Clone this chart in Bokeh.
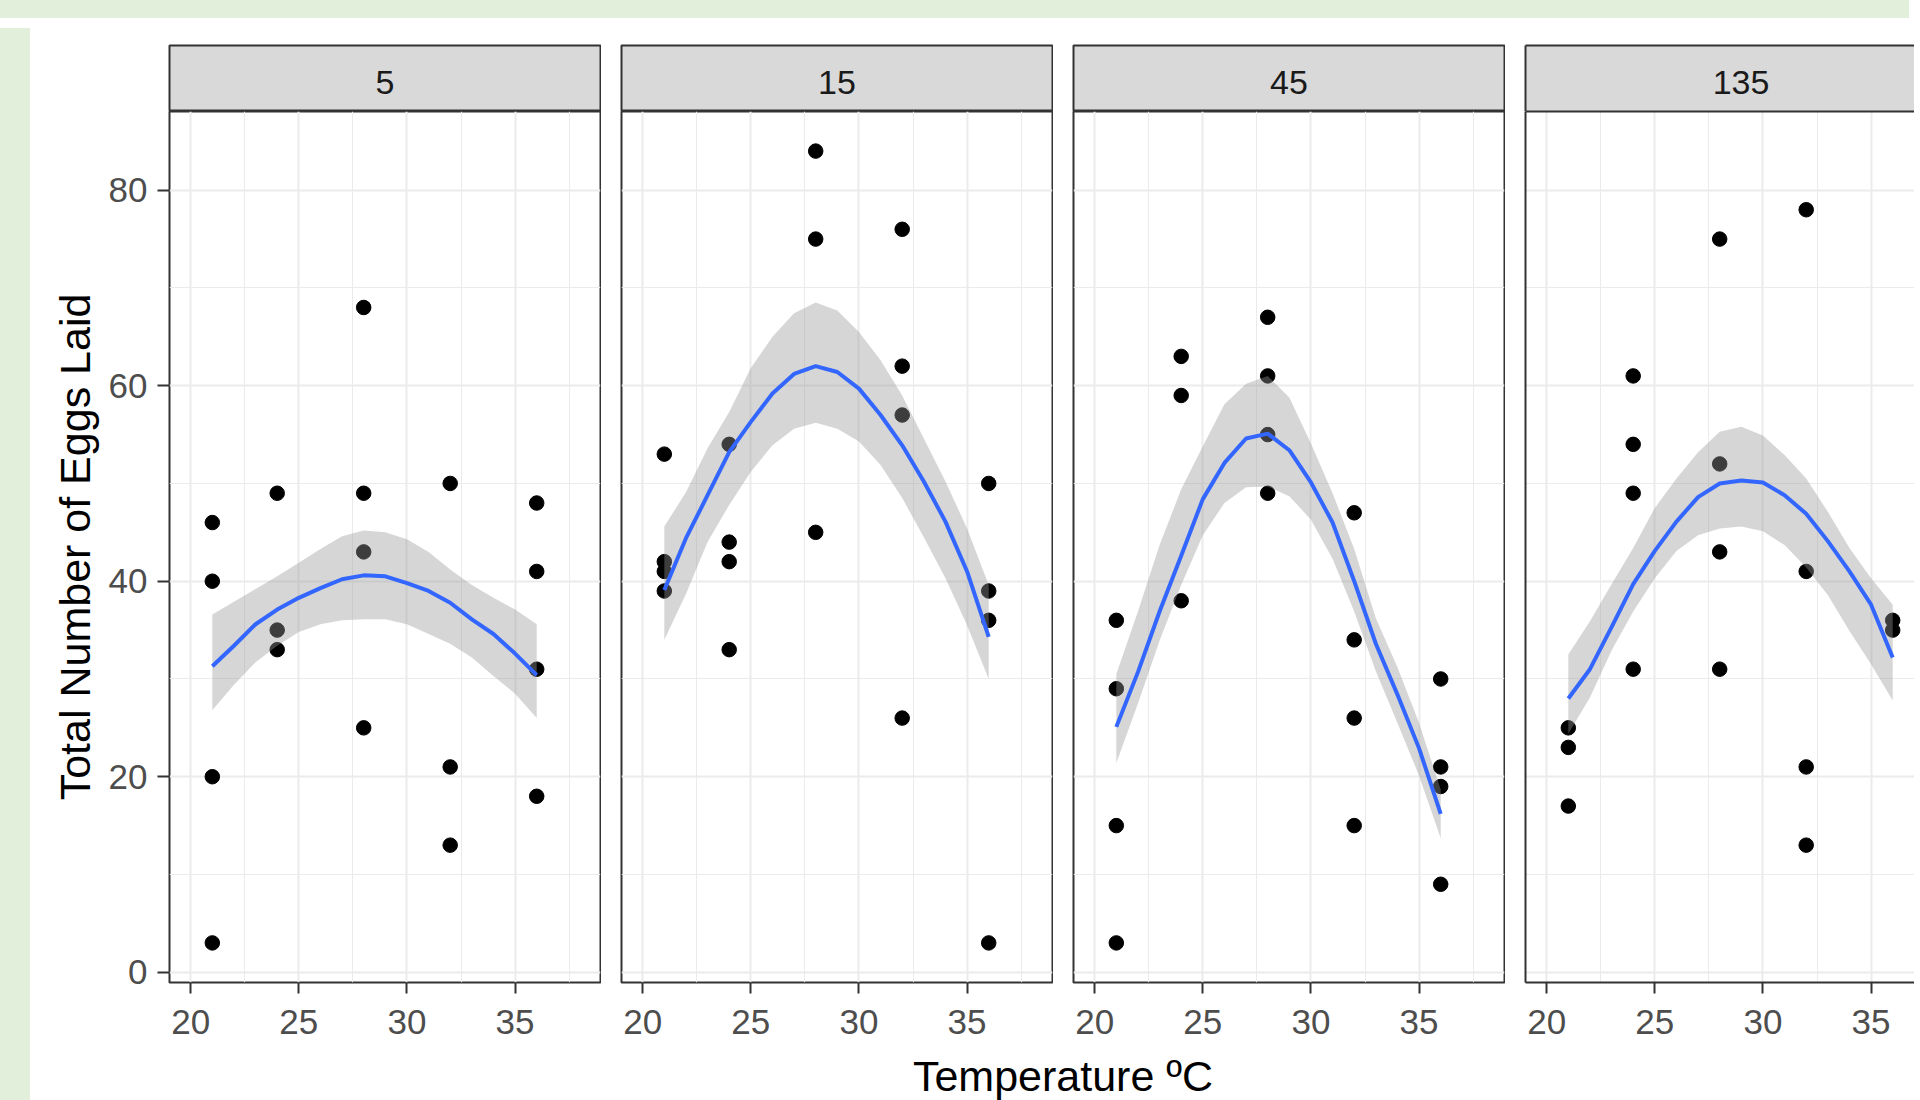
from bokeh.plotting import figure
from bokeh.models import Range1d, FixedTicker, LinearAxis, Label, Div
from bokeh.layouts import row, column
from bokeh.embed import file_html
from bokeh.resources import INLINE
from bokeh.core.properties import value

FONT = "Liberation Sans"
GREEN = "#E2EFDA"
BORDER = "#333333"
GRID = "#EBEBEB"

# ---------------- data ----------------
strip_labels = ["5", "15", "45", "135"]
x_ticks = [20, 25, 30, 35]
x_minor = [22.5, 27.5, 32.5, 37.5]
y_ticks = [0, 20, 40, 60, 80]
y_minor = [10, 30, 50, 70]

p5_temp = [21, 21, 21, 21, 24, 24, 24, 28, 28, 28, 28, 32, 32, 32, 36, 36, 36, 36]
p5_eggs = [46, 40, 20, 3, 49, 35, 33, 68, 49, 43, 25, 50, 21, 13, 48, 41, 31, 18]
p15_temp = [21, 21, 21, 21, 24, 24, 24, 24, 28, 28, 28, 32, 32, 32, 32, 36, 36, 36, 36]
p15_eggs = [53, 42, 41, 39, 54, 44, 42, 33, 84, 75, 45, 76, 62, 57, 26, 50, 39, 36, 3]
p45_temp = [21, 21, 21, 21, 24, 24, 24, 28, 28, 28, 28, 32, 32, 32, 32, 36, 36, 36, 36]
p45_eggs = [36, 29, 15, 3, 63, 59, 38, 67, 61, 55, 49, 47, 34, 26, 15, 30, 21, 19, 9]
p135_temp = [21, 21, 21, 24, 24, 24, 24, 28, 28, 28, 28, 32, 32, 32, 32, 36, 36]
p135_eggs = [25, 23, 17, 61, 54, 49, 31, 75, 52, 43, 31, 78, 41, 21, 13, 36, 35]

smooth_temp = [21, 22, 23, 24, 25, 26, 27, 28, 29, 30, 31, 32, 33, 34, 35, 36]
fit5 = [31.3, 33.4, 35.6, 37.1, 38.3, 39.3, 40.2, 40.6, 40.5, 39.8, 39.0, 37.8, 36.1, 34.6, 32.6, 30.4]
upr5 = [36.6, 37.9, 39.2, 40.5, 41.9, 43.3, 44.6, 45.2, 45.0, 44.3, 43.0, 41.2, 39.6, 38.3, 37.1, 35.6]
lwr5 = [26.8, 29.4, 31.7, 33.4, 34.8, 35.6, 36.0, 36.1, 36.1, 35.6, 34.6, 33.6, 32.2, 30.3, 28.5, 26.0]
fit15 = [39.1, 44.4, 48.8, 53.2, 56.3, 59.2, 61.2, 62.0, 61.4, 59.7, 57.0, 53.9, 50.2, 46.1, 41.0, 34.3]
upr15 = [45.6, 49.1, 53.6, 57.3, 61.8, 65.0, 67.4, 68.5, 67.7, 65.5, 62.6, 59.0, 54.6, 50.2, 45.4, 39.6]
lwr15 = [34.0, 38.7, 44.0, 47.8, 51.2, 53.9, 55.6, 56.2, 55.6, 54.3, 51.9, 48.5, 44.5, 40.3, 35.5, 30.0]
fit45 = [25.1, 30.7, 36.9, 42.6, 48.4, 52.1, 54.6, 55.1, 53.4, 50.1, 46.0, 40.0, 33.6, 28.4, 22.9, 16.2]
upr45 = [30.5, 36.9, 43.7, 49.4, 53.8, 58.1, 60.2, 61.0, 58.8, 54.1, 49.0, 43.3, 36.2, 31.2, 25.5, 18.7]
lwr45 = [21.4, 27.5, 33.9, 39.6, 44.7, 48.0, 49.6, 49.7, 48.7, 46.3, 42.3, 36.9, 30.8, 25.5, 20.1, 13.7]
fit135 = [28.0, 31.0, 35.3, 39.7, 43.1, 46.1, 48.6, 50.0, 50.3, 50.1, 48.8, 46.9, 44.1, 41.0, 37.6, 32.2]
upr135 = [32.5, 35.9, 39.7, 43.4, 47.5, 50.5, 53.2, 55.3, 55.8, 54.9, 52.9, 50.5, 47.1, 43.4, 40.3, 37.6]
lwr135 = [24.4, 28.1, 32.9, 36.9, 40.3, 43.1, 44.7, 45.4, 45.6, 45.1, 43.7, 41.4, 38.6, 34.9, 31.5, 27.8]

points = [(p5_temp, p5_eggs), (p15_temp, p15_eggs), (p45_temp, p45_eggs), (p135_temp, p135_eggs)]
smooths = [(fit5, lwr5, upr5), (fit15, lwr15, upr15), (fit45, lwr45, upr45), (fit135, lwr135, upr135)]

# ---------------- layout constants ----------------
X_START, X_END = 19.02, 38.95
Y_START, Y_END = -1.05, 88.05
FULL_W = 431
FRAME_W = [431, 431, 431, 389]
LEFTS = [134, 20, 20, 20]
RIGHTS = [1, 1, 1, 0]
GREEN_TOP = 21
GREEN_LEFT = 33
STRIP_TOP = 22
STRIP_H = 66
PANEL_FRAME_H = 871
PANEL_BOTTOM = 67
TITLE_H = 51
TICK_FONT = "35px"
TITLE_FONT = "43px"
ROW_W = sum(l + f + r for l, f, r in zip(LEFTS, FRAME_W, RIGHTS))


def border_axis():
    return LinearAxis(ticker=FixedTicker(ticks=[]), axis_line_color=BORDER, axis_line_width=2,
                      major_tick_line_color=None, minor_tick_line_color=None,
                      major_label_standoff=0, major_tick_out=0, major_tick_in=0)


cols = []
for i in range(4):
    last = i == 3
    x_end = X_START + FRAME_W[i] * (X_END - X_START) / FULL_W
    w = LEFTS[i] + FRAME_W[i] + RIGHTS[i]

    # ---- strip ----
    s = figure(width=w, height=STRIP_TOP + STRIP_H, x_range=Range1d(X_START, x_end),
               y_range=Range1d(0, STRIP_H), output_backend="svg", toolbar_location=None,
               min_border_left=LEFTS[i], min_border_right=RIGHTS[i],
               min_border_top=STRIP_TOP, min_border_bottom=0,
               x_axis_location=None, y_axis_location=None)
    s.grid.visible = False
    s.background_fill_color = "#D9D9D9"
    s.border_fill_color = "white"
    if last:
        s.outline_line_color = None
        s.add_layout(border_axis(), "left")
        s.add_layout(border_axis(), "above")
        s.add_layout(border_axis(), "below")
    else:
        s.outline_line_color = BORDER
        s.outline_line_width = 2
    s.text(x=[(X_START + X_END) / 2], y=[29], text=[strip_labels[i]],
           text_font=value(FONT), text_font_size="34px", text_color="#1A1A1A",
           text_align="center", text_baseline="middle")

    # ---- panel ----
    p = figure(width=w, height=PANEL_FRAME_H + PANEL_BOTTOM, x_range=Range1d(X_START, x_end),
               y_range=Range1d(Y_START, Y_END), output_backend="svg", toolbar_location=None,
               min_border_left=LEFTS[i], min_border_right=RIGHTS[i],
               min_border_top=0, min_border_bottom=PANEL_BOTTOM)
    p.background_fill_color = "white"
    p.border_fill_color = "white"
    p.xgrid.ticker = FixedTicker(ticks=x_ticks, minor_ticks=x_minor)
    p.ygrid.ticker = FixedTicker(ticks=y_ticks, minor_ticks=y_minor)
    for g in (p.xgrid, p.ygrid):
        g.grid_line_color = GRID
        g.grid_line_width = 2
        g.minor_grid_line_color = GRID
        g.minor_grid_line_width = 1

    xa = p.xaxis[0]
    xa.ticker = FixedTicker(ticks=x_ticks)
    xa.major_tick_out = 11
    xa.major_tick_in = 0
    xa.major_tick_line_color = BORDER
    xa.major_tick_line_width = 2
    xa.minor_tick_line_color = None
    xa.major_label_standoff = 16
    xa.major_label_text_font = FONT
    xa.major_label_text_font_size = TICK_FONT
    xa.major_label_text_color = "#4D4D4D"

    ya = p.yaxis[0]
    if i == 0:
        ya.ticker = FixedTicker(ticks=y_ticks)
        ya.major_tick_out = 12
        ya.major_tick_in = 0
        ya.major_tick_line_color = BORDER
        ya.major_tick_line_width = 2
        ya.minor_tick_line_color = None
        ya.major_label_standoff = 10
        ya.major_label_text_font = FONT
        ya.major_label_text_font_size = TICK_FONT
        ya.major_label_text_color = "#4D4D4D"
        ya.axis_line_color = None
        ya.axis_label = "Total Number of Eggs Laid"
        ya.axis_label_text_font = FONT
        ya.axis_label_text_font_size = TITLE_FONT
        ya.axis_label_text_font_style = "normal"
        ya.axis_label_text_color = "black"
        ya.axis_label_standoff = 7
    else:
        ya.ticker = FixedTicker(ticks=[])
        ya.major_tick_line_color = None
        ya.minor_tick_line_color = None
        ya.major_label_standoff = 0
        ya.major_tick_out = 0
        ya.major_tick_in = 0
        ya.axis_line_color = BORDER if last else None
        ya.axis_line_width = 2

    if last:
        p.outline_line_color = None
        xa.axis_line_color = BORDER
        xa.axis_line_width = 2
        p.add_layout(border_axis(), "above")
    else:
        xa.axis_line_color = None
        p.outline_line_color = BORDER
        p.outline_line_width = 2

    px, py = points[i]
    fit, lwr, upr = smooths[i]
    p.scatter(px, py, size=14.5, color="black")
    p.varea(x=smooth_temp, y1=lwr, y2=upr, fill_color="#999999", fill_alpha=0.4)
    p.line(smooth_temp, fit, line_color="#3366FF", line_width=4)

    cols.append(column(s, p))

# ---- x-axis title, centred across all four panels ----
panels_left = LEFTS[0]
panels_right = ROW_W + (FULL_W - FRAME_W[3])
t = figure(width=ROW_W, height=TITLE_H, x_range=Range1d(0, ROW_W), y_range=Range1d(0, TITLE_H),
           output_backend="svg", toolbar_location=None, min_border=0,
           x_axis_location=None, y_axis_location=None)
t.grid.visible = False
t.outline_line_color = None
t.add_layout(Label(x=(panels_left + panels_right) / 2.0, y=25,
                   text="Temperature ºC", text_font=FONT, text_font_size=TITLE_FONT,
                   text_color="black", text_align="center", text_baseline="middle"))

body_h = STRIP_TOP + STRIP_H + PANEL_FRAME_H + PANEL_BOTTOM + TITLE_H
top_band = Div(text="", width=ROW_W + GREEN_LEFT, height=GREEN_TOP, styles={"background-color": GREEN})
left_band = Div(text="", width=GREEN_LEFT, height=body_h, styles={"background-color": GREEN})

root = column(top_band, row(left_band, column(row(*cols), t)),
              styles={"margin": "-8px 0px -8px -8px"})

open("out.html", "w").write(file_html(root, INLINE))
